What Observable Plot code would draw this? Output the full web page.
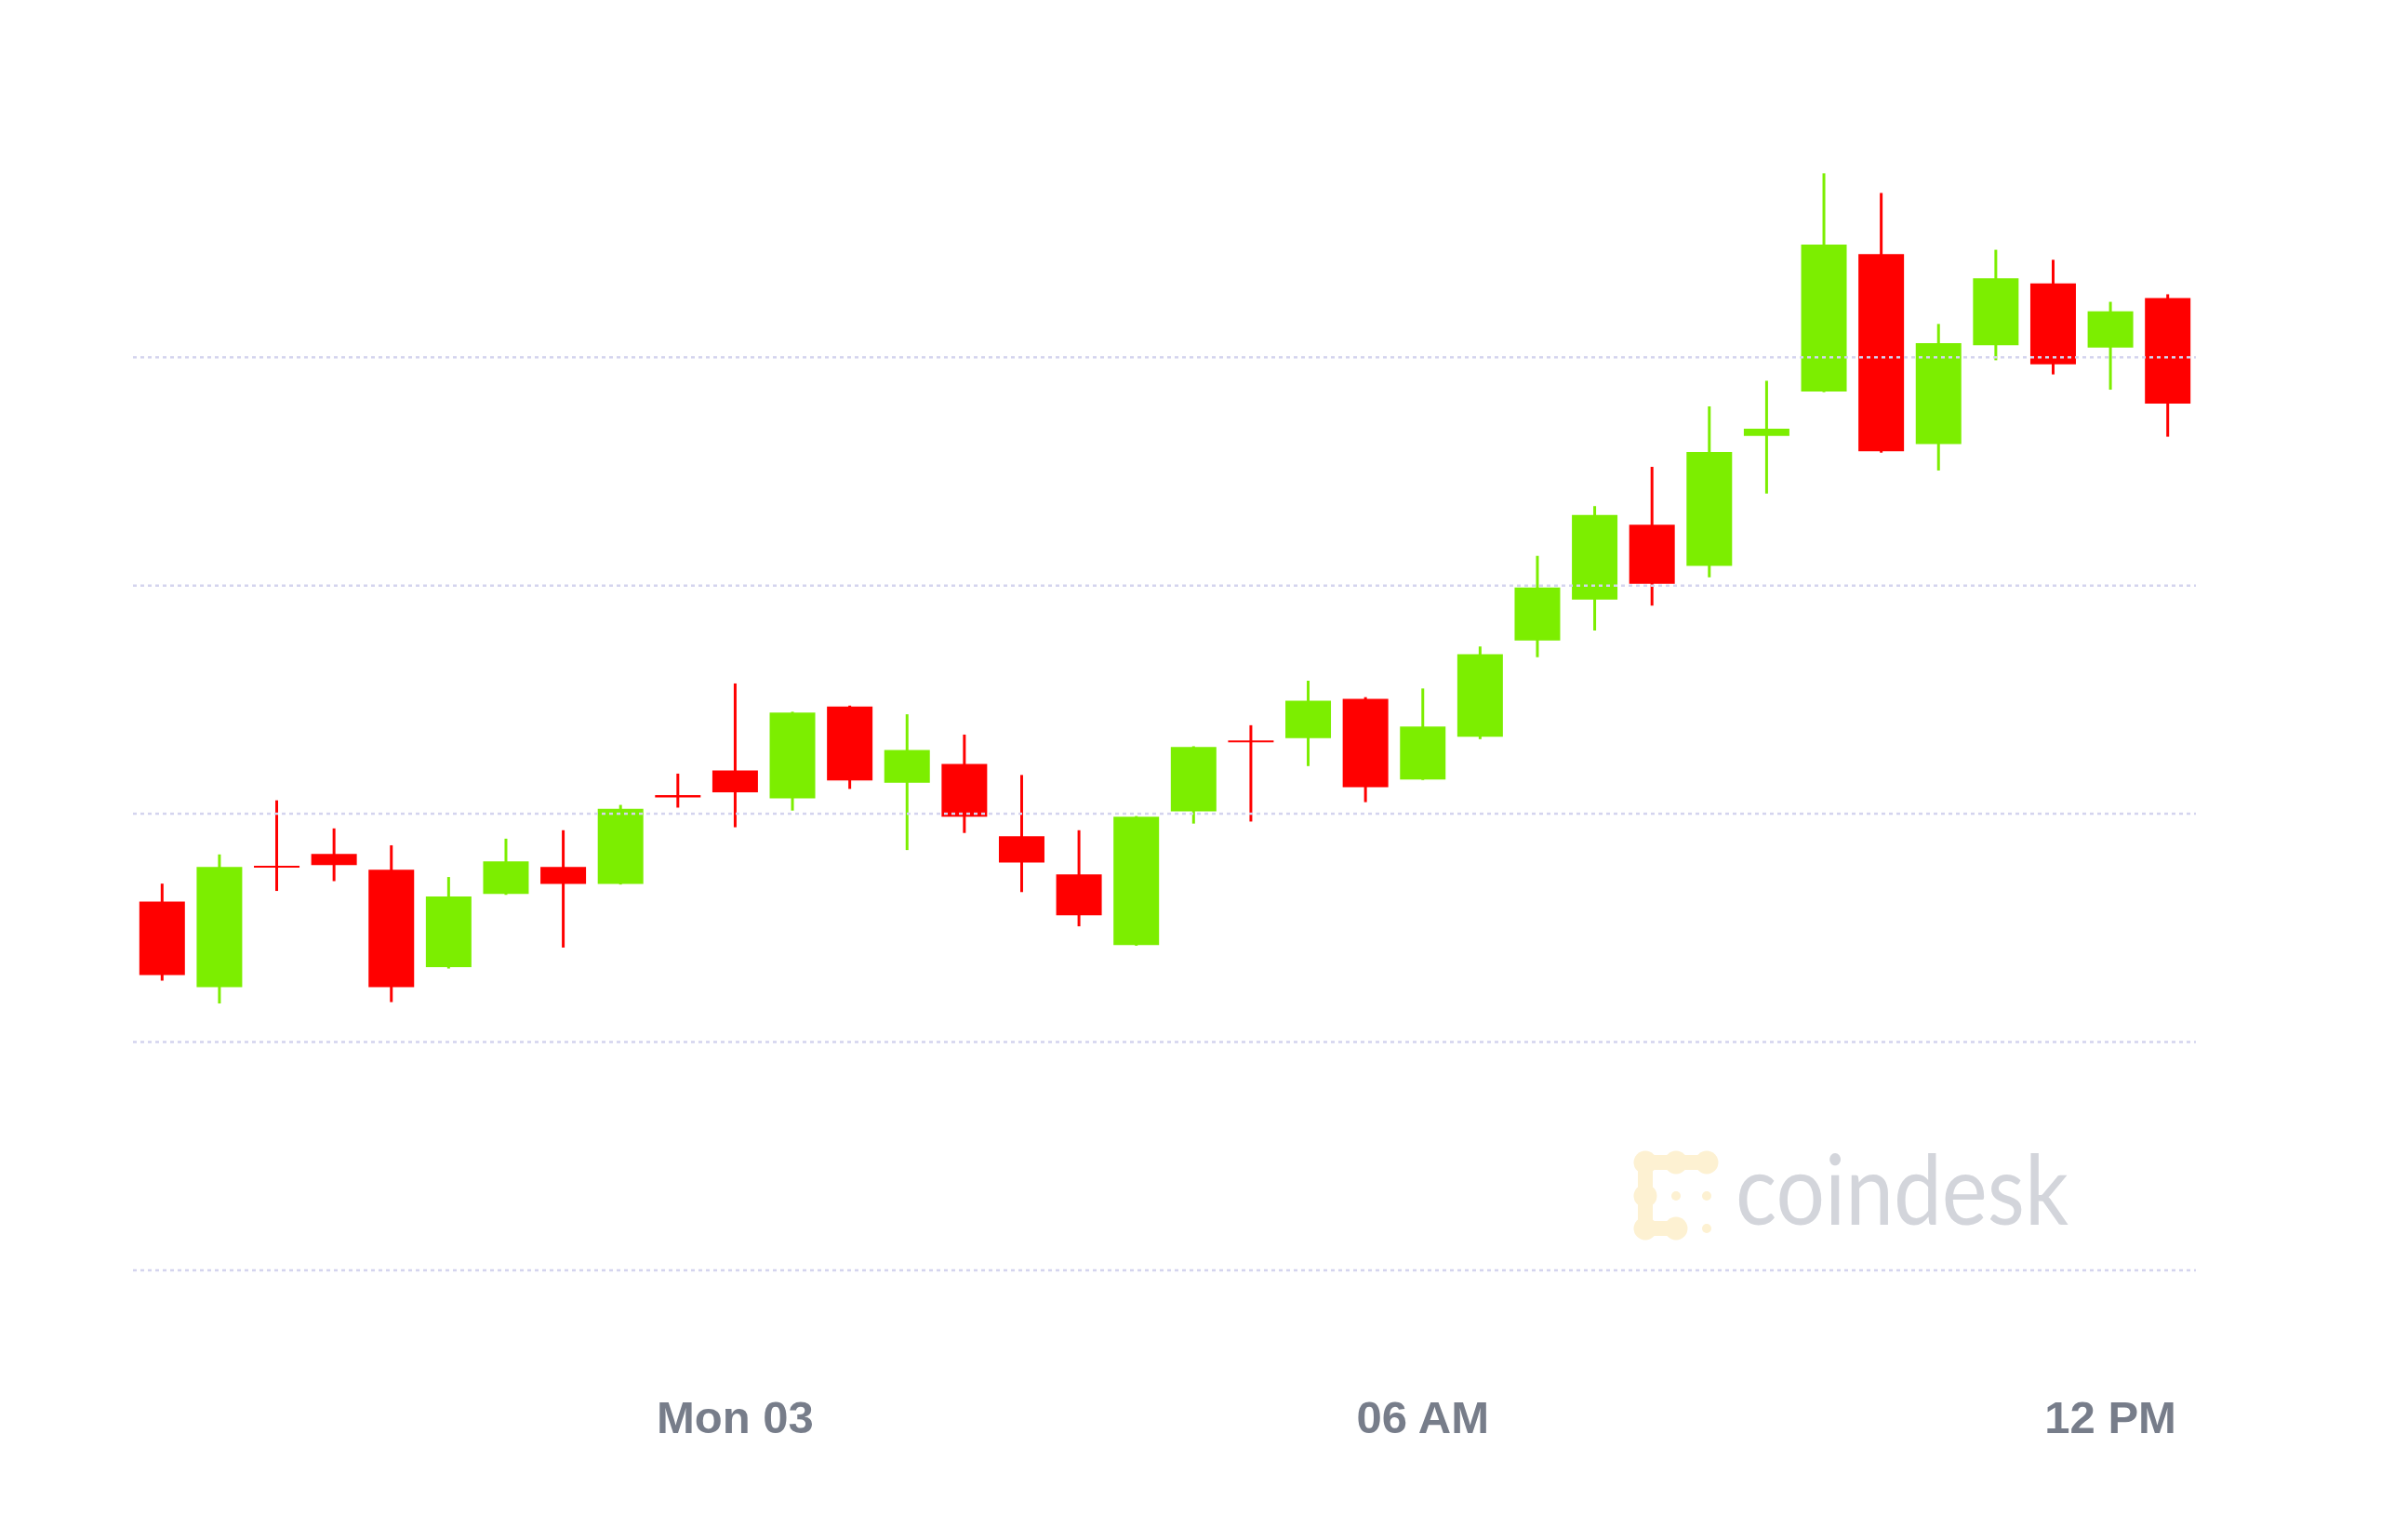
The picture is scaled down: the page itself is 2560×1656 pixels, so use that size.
<!DOCTYPE html>
<html>
<head>
<meta charset="utf-8">
<script src="https://cdn.jsdelivr.net/npm/d3@7"></script>
<script src="https://cdn.jsdelivr.net/npm/@observablehq/plot@0.6"></script>
<style>
  html, body { margin: 0; padding: 0; background: #ffffff; }
  #chart { width: 2560px; height: 1656px; }
</style>
</head>
<body>
<div id="chart"></div>
<script>
// 30-minute candles, Sun 02 19:00 -> Mon 03 12:30 (UTC used for display)
const times = [
  "2020-08-02T19:00Z","2020-08-02T19:30Z","2020-08-02T20:00Z","2020-08-02T20:30Z",
  "2020-08-02T21:00Z","2020-08-02T21:30Z","2020-08-02T22:00Z","2020-08-02T22:30Z",
  "2020-08-02T23:00Z","2020-08-02T23:30Z","2020-08-03T00:00Z","2020-08-03T00:30Z",
  "2020-08-03T01:00Z","2020-08-03T01:30Z","2020-08-03T02:00Z","2020-08-03T02:30Z",
  "2020-08-03T03:00Z","2020-08-03T03:30Z","2020-08-03T04:00Z","2020-08-03T04:30Z",
  "2020-08-03T05:00Z","2020-08-03T05:30Z","2020-08-03T06:00Z","2020-08-03T06:30Z",
  "2020-08-03T07:00Z","2020-08-03T07:30Z","2020-08-03T08:00Z","2020-08-03T08:30Z",
  "2020-08-03T09:00Z","2020-08-03T09:30Z","2020-08-03T10:00Z","2020-08-03T10:30Z",
  "2020-08-03T11:00Z","2020-08-03T11:30Z","2020-08-03T12:00Z","2020-08-03T12:30Z"
];
const opens = [
  11161.3, 11123.9, 11177.0, 11182.2, 11175.3, 11132.6, 11164.7, 11176.5, 11169.1, 11208.0,
  11218.8, 11206.6, 11246.8, 11213.4, 11221.6, 11190.0, 11173.3, 11142.3, 11200.9, 11231.9,
  11232.9, 11250.2, 11214.8, 11233.6, 11275.7, 11293.6, 11326.4, 11308.4, 11365.3, 11384.8,
  11445.0, 11361.8, 11405.1, 11432.2, 11404.1, 11425.7
];
const highs = [
  11169.2, 11182.0, 11205.7, 11193.4, 11186.0, 11172.1, 11188.9, 11192.6, 11203.7, 11217.4,
  11256.9, 11244.5, 11247.2, 11243.4, 11234.5, 11216.8, 11192.6, 11198.8, 11229.4, 11238.6,
  11258.1, 11250.9, 11254.7, 11273.1, 11312.8, 11334.6, 11351.8, 11378.3, 11389.5, 11480.4,
  11471.8, 11414.4, 11446.9, 11442.5, 11424.1, 11427.4
];
const lows = [
  11126.7, 11116.7, 11166.0, 11170.3, 11117.3, 11132.0, 11164.3, 11141.2, 11168.8, 11202.5,
  11193.9, 11201.2, 11210.7, 11183.9, 11191.4, 11165.5, 11150.5, 11142.0, 11195.5, 11196.4,
  11220.7, 11204.9, 11214.6, 11232.5, 11268.4, 11280.1, 11291.0, 11303.4, 11340.1, 11384.5,
  11358.0, 11350.2, 11398.5, 11392.3, 11385.6, 11365.0
];
const closes = [
  11129.2, 11176.5, 11176.2, 11177.3, 11123.9, 11163.6, 11179.0, 11169.1, 11202.0, 11207.0,
  11209.2, 11244.1, 11214.4, 11227.7, 11198.5, 11178.4, 11155.3, 11198.5, 11229.1, 11231.1,
  11249.3, 11211.4, 11238.0, 11269.7, 11298.9, 11330.7, 11300.6, 11358.3, 11368.5, 11449.2,
  11358.6, 11406.0, 11434.4, 11396.7, 11419.9, 11379.5
];

const gridValues = [11000, 11100, 11200, 11300, 11400];
const tickDates = ["2020-08-03T00:00Z", "2020-08-03T06:00Z", "2020-08-03T12:00Z"];
const tickLabels = ["Mon 03", "06 AM", "12 PM"];
const xDomain = ["2020-08-02T18:45Z", "2020-08-03T12:45Z"];

const GREEN = "#7cee00";
const RED = "#ff0000";

const candles = times.map((t, i) => ({
  date: new Date(t),
  open: opens[i], high: highs[i], low: lows[i], close: closes[i],
  dir: closes[i] >= opens[i] ? "up" : "down"
}));
const ticks = tickDates.map((t, i) => ({date: new Date(t), label: tickLabels[i]}));

const plot = Plot.plot({
  width: 2560,
  height: 1656,
  marginLeft: 143,
  marginRight: 199,
  marginTop: 383.7,
  marginBottom: 290.5,
  x: {type: "utc", domain: xDomain.map(d => new Date(d)), axis: null},
  y: {domain: [11000, 11400], axis: null},
  color: {domain: ["up", "down"], range: [GREEN, RED]},
  style: {background: "#ffffff", fontFamily: "'Liberation Sans', Arial, Helvetica, sans-serif", overflow: "visible"},
  marks: [
    Plot.ruleX(candles, {x: "date", y1: "low", y2: "high", stroke: "dir", strokeWidth: 3}),
    Plot.ruleX(candles, {x: "date", y1: "open", y2: "close", stroke: "dir", strokeWidth: 49}),
    Plot.ruleY(gridValues, {stroke: "#d4d4ee", strokeWidth: 2.5, strokeDasharray: "4,4"}),
    Plot.text(ticks, {
      x: "date", text: "label", frameAnchor: "bottom", lineAnchor: "bottom", dy: 174.5,
      fontSize: 49, fontWeight: "bold", fill: "#777d8a", textAnchor: "middle"
    })
  ]
});

// coindesk watermark (decoration)
const svg = d3.select(plot);
const wm = svg.insert("g", "g").attr("class", "watermark");
const icon = wm.append("g").attr("fill", "#fdf1d2").attr("stroke", "#fdf1d2");
const blobs = [[1769,1250],[1802,1250],[1835,1250],[1769,1286],[1769,1321],[1802,1321]];
const links = [[0,1],[1,2],[0,3],[3,4],[4,5]];
links.forEach(([a,b]) => icon.append("line")
  .attr("x1", blobs[a][0]).attr("y1", blobs[a][1])
  .attr("x2", blobs[b][0]).attr("y2", blobs[b][1])
  .attr("stroke-width", 16).attr("stroke-linecap", "round"));
blobs.forEach(([x,y]) => icon.append("circle").attr("cx", x).attr("cy", y).attr("r", 12.5).attr("stroke", "none"));
[[1802,1286],[1835,1286],[1835,1321]].forEach(([x,y]) =>
  icon.append("circle").attr("cx", x).attr("cy", y).attr("r", 5).attr("stroke", "none"));
wm.append("text")
  .attr("x", 1866).attr("y", 1317)
  .attr("text-anchor", "start")
  .attr("font-family", "Lato, 'Open Sans', sans-serif")
  .attr("font-size", 104)
  .attr("fill", "#d3d5db")
  .attr("textLength", 358)
  .attr("lengthAdjust", "spacingAndGlyphs")
  .text("coindesk");

document.getElementById("chart").appendChild(plot);
</script>
</body>
</html>
